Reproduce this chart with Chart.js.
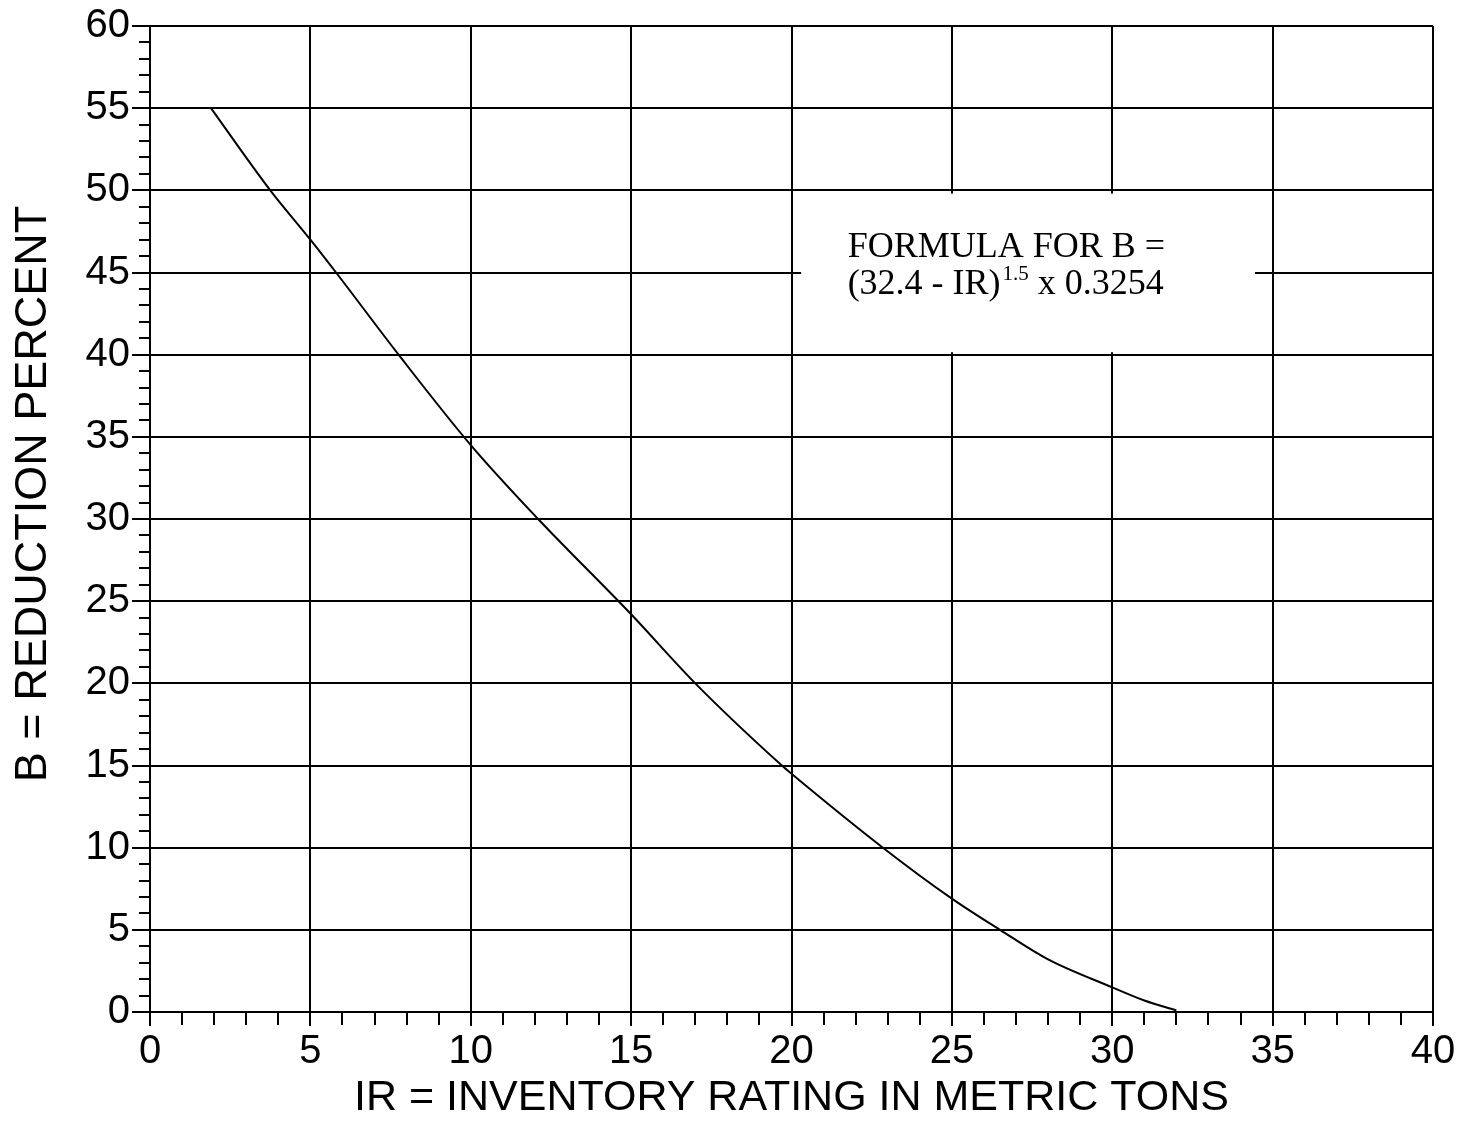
<!DOCTYPE html>
<html>
<head>
<meta charset="utf-8">
<script src="https://cdn.jsdelivr.net/npm/chart.js@4/dist/chart.umd.min.js"></script>
<style>
  html, body { margin: 0; padding: 0; background: #fff; }
  #wrap { width: 1467px; height: 1131px; position: relative; }
</style>
</head>
<body>
<div id="wrap"><canvas id="c" width="1467" height="1131"></canvas></div>
<script>
// Data
const irValues = [1.9, 3.75, 5, 5.8, 7.75, 10, 12.1, 15, 17, 19.7, 20, 22.85, 25, 26.5, 28, 30, 31, 32];
const bValues  = [55, 50, 47.0, 45, 40, 34.5, 30, 24.2, 20, 15, 14.5, 10, 6.9, 5, 3.2, 1.5, 0.7, 0.1];
const xTickLabels = ['0', '5', '10', '15', '20', '25', '30', '35', '40'];
const yTickLabels = ['0', '5', '10', '15', '20', '25', '30', '35', '40', '45', '50', '55', '60'];
const xTitle = 'IR = INVENTORY RATING IN METRIC TONS';
const yTitle = 'B = REDUCTION PERCENT';
const formulaLine1 = 'FORMULA FOR B =';
const formulaLine2a = '(32.4 - IR)';
const formulaSup = '1.5';
const formulaLine2b = ' x 0.3254';

const points = irValues.map((x, i) => ({ x: x, y: bValues[i] }));

const sansFont = "'Liberation Sans', Arial, Helvetica, sans-serif";
const serifFont = "'Liberation Serif', 'Times New Roman', serif";

const decorations = {
  id: 'decorations',
  beforeDatasetsDraw(chart) {
    const { ctx, scales: { x, y } } = chart;
    ctx.save();
    // minor ticks (every unit)
    ctx.strokeStyle = '#000';
    ctx.lineWidth = 2;
    ctx.beginPath();
    for (let v = 0; v <= 60; v++) {
      if (v % 5 === 0) continue;
      const py = Math.round(y.getPixelForValue(v));
      ctx.moveTo(x.left - 11, py);
      ctx.lineTo(x.left, py);
    }
    for (let v = 0; v <= 40; v++) {
      if (v % 5 === 0) continue;
      const px = Math.round(x.getPixelForValue(v));
      ctx.moveTo(px, y.bottom);
      ctx.lineTo(px, y.bottom + 13);
    }
    ctx.stroke();

    // formula box
    const x0 = x.getPixelForValue(20.3), x1 = x.getPixelForValue(34.45);
    const y0 = y.getPixelForValue(49.8), y1 = y.getPixelForValue(40.15);
    ctx.fillStyle = '#fff';
    ctx.fillRect(x0, y0, x1 - x0, y1 - y0);
    ctx.fillStyle = '#000';
    ctx.textBaseline = 'alphabetic';
    ctx.textAlign = 'left';
    const tx = x.getPixelForValue(21.75);
    ctx.font = '36px ' + serifFont;
    ctx.fillText(formulaLine1, tx, y.getPixelForValue(45.95));
    const by = y.getPixelForValue(43.7);
    ctx.fillText(formulaLine2a, tx, by);
    const w = ctx.measureText(formulaLine2a).width;
    ctx.font = '21px ' + serifFont;
    ctx.fillText(formulaSup, tx + w + 2, by - 14);
    const ws = ctx.measureText(formulaSup).width;
    ctx.font = '36px ' + serifFont;
    ctx.fillText(formulaLine2b, tx + w + 2 + ws, by);

    // y axis title
    ctx.translate(34, 494);
    ctx.rotate(-Math.PI / 2);
    ctx.textAlign = 'center';
    ctx.textBaseline = 'middle';
    ctx.font = '45px ' + sansFont;
    ctx.fillText(yTitle, 0, 0);
    ctx.restore();
  }
};

new Chart(document.getElementById('c'), {
  type: 'scatter',
  data: {
    datasets: [{
      label: 'B',
      data: points,
      showLine: true,
      borderColor: '#000',
      borderWidth: 2,
      pointRadius: 0,
      cubicInterpolationMode: 'monotone',
      fill: false
    }]
  },
  options: {
    responsive: false,
    animation: false,
    devicePixelRatio: 1,
    layout: { padding: { top: 22, right: 34, left: 0, bottom: 0 } },
    plugins: { legend: { display: false }, tooltip: { enabled: false } },
    scales: {
      x: {
        type: 'linear',
        min: 0, max: 40,
        afterFit(scale) { scale.height = 1131 - 1012; },
        ticks: {
          stepSize: 5,
          autoSkip: false,
          maxRotation: 0,
          color: '#000',
          padding: 2,
          font: { family: sansFont, size: 40 },
          callback: (v) => xTickLabels[v / 5]
        },
        grid: {
          color: '#000',
          tickColor: '#000',
          lineWidth: 2,
          tickLength: 14,
          drawTicks: true
        },
        border: { display: true, color: '#000', width: 2 },
        title: {
          display: true,
          text: xTitle,
          color: '#000',
          font: { family: sansFont, size: 43 },
          padding: { top: 0, bottom: 7 }
        }
      },
      y: {
        type: 'linear',
        min: 0, max: 60,
        afterFit(scale) { scale.width = 150; },
        ticks: {
          stepSize: 5,
          autoSkip: false,
          color: '#000',
          padding: 2,
          font: { family: sansFont, size: 40 },
          callback: (v) => yTickLabels[v / 5]
        },
        grid: {
          color: '#000',
          tickColor: '#000',
          lineWidth: 2,
          tickLength: 18,
          drawTicks: true
        },
        border: { display: true, color: '#000', width: 2 },
        title: { display: false, text: yTitle }
      }
    }
  },
  plugins: [decorations]
});
</script>
</body>
</html>
